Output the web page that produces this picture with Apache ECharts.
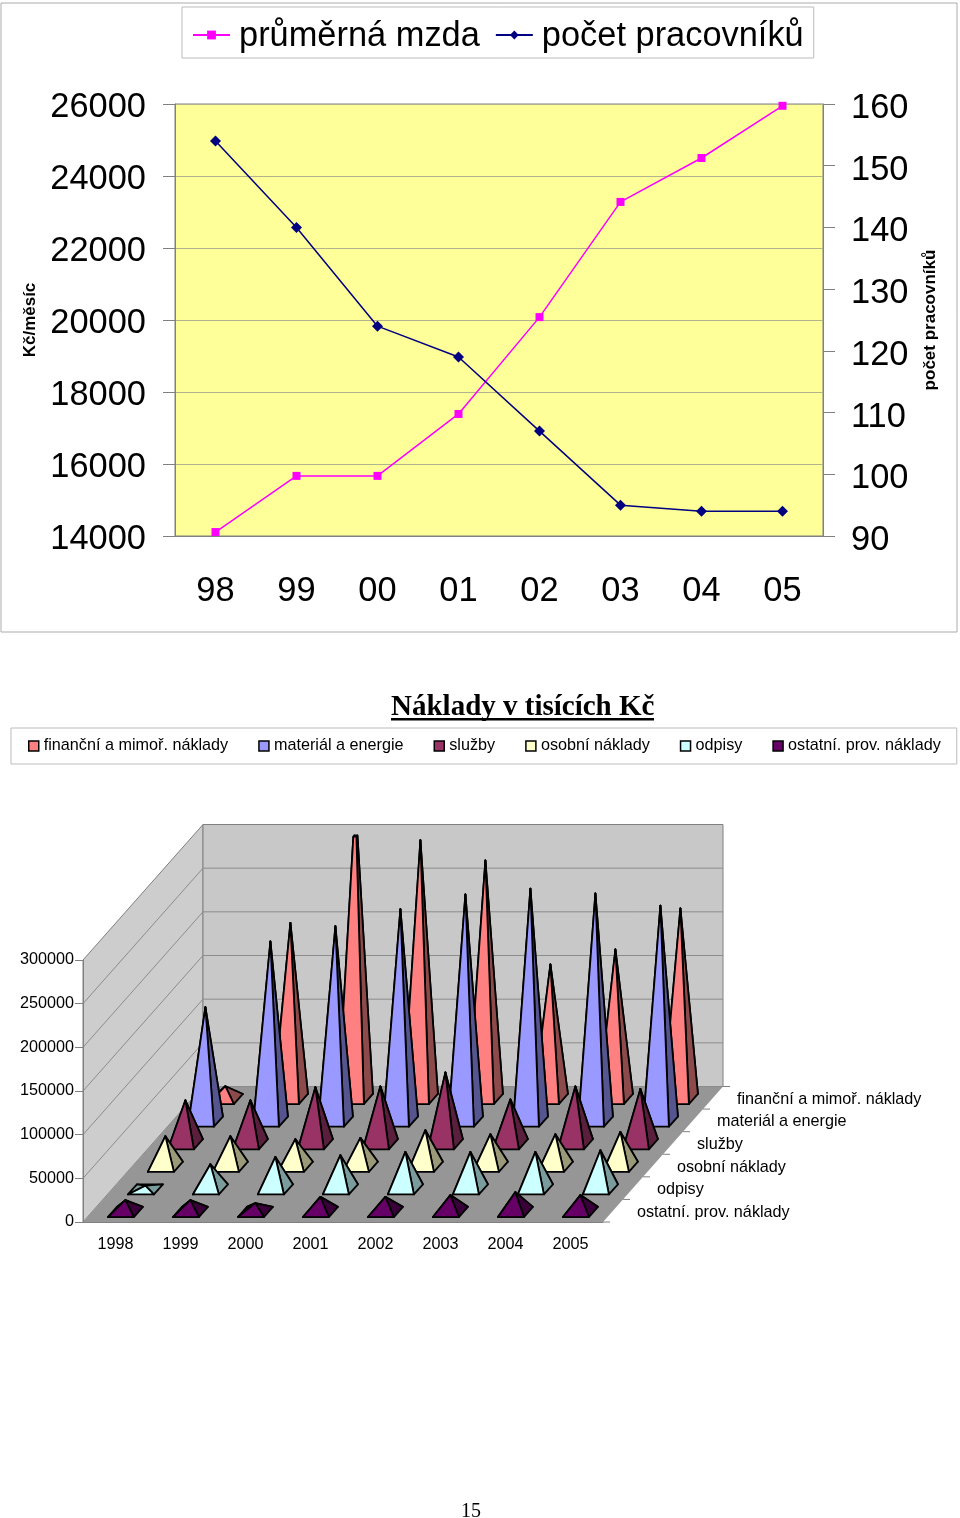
<!DOCTYPE html>
<html><head><meta charset="utf-8">
<style>html,body{margin:0;padding:0;background:#fff}#c{width:960px;height:1518px}</style>
<script src="https://cdn.jsdelivr.net/npm/echarts@6/dist/echarts.min.js"></script>
</head><body><div id="c"></div>
<script>
// ---- top chart data
const lineCategories = ['98','99','00','01','02','03','04','05'];
const averageWage = [14110,15670,15670,17390,20080,23280,24500,25950];
const workerCount = [154,140,124,119,107,95,94,94];
// ---- bottom chart data
const years = ['1998','1999','2000','2001','2002','2003','2004','2005'];
const seriesNames = ['finanční a mimoř. náklady','materiál a energie','služby','osobní náklady','odpisy','ostatní. prov. náklady'];
const financni = [13400,200400,340000,295000,272000,153000,170000,217000];
const material = [129700,205000,222500,242000,259000,265500,260000,246000];
const sluzby = [49000,49000,64000,65000,81000,50000,65000,62000];
const osobni = [33800,33800,30300,31800,40600,36000,36000,38700];
const odpisy = [3000,27500,35800,37800,41600,41600,41600,43500];
const ostatni = [12300,12300,8800,16000,16000,18000,21400,18000];
const costTicks = [0,50000,100000,150000,200000,250000,300000];

const FONT = '"Liberation Sans", Arial, sans-serif';
const DEPTH_X = 120, DEPTH_Y = -135.5;
const GRAY = '#808080';
const allCosts = [financni,material,sluzby,osobni,odpisy,ostatni];
const faceColors = ['#FF8080','#9999FF','#993366','#FFFFCC','#CCFFFF','#660066'];
const sideColors = ['#8C4A4A','#55558F','#5A1F3C','#9A9A78','#7A9C9C','#3A003A'];
const N = seriesNames.length;

function renderWalls(params, api){
  const band = api.size([1,0])[0];
  const xL = api.coord([0,0])[0]-band/2, xR = api.coord([years.length-1,0])[0]+band/2;
  const y0 = api.coord([0,0])[1], yT = api.coord([0,300000])[1];
  const kids = [];
  const poly = (pts,fill)=>kids.push({type:'polygon',shape:{points:pts},style:{fill,stroke:GRAY,lineWidth:1}});
  poly([[xL,y0],[xL,yT],[xL+DEPTH_X,yT+DEPTH_Y],[xL+DEPTH_X,y0+DEPTH_Y]],'#CDCDCD');
  poly([[xL+DEPTH_X,y0+DEPTH_Y],[xL+DEPTH_X,yT+DEPTH_Y],[xR+DEPTH_X,yT+DEPTH_Y],[xR+DEPTH_X,y0+DEPTH_Y]],'#C8C8C8');
  costTicks.forEach(v=>{
    const y = api.coord([0,v])[1];
    if(v===0||v===300000) return;
    kids.push({type:'polyline',shape:{points:[[xL,y],[xL+DEPTH_X,y+DEPTH_Y],[xR+DEPTH_X,y+DEPTH_Y]]},style:{fill:null,stroke:'#8C8C8C',lineWidth:1}});
  });
  kids.push({type:'polygon',shape:{points:[[xL,y0],[xR,y0],[xR+DEPTH_X,y0+DEPTH_Y],[xL+DEPTH_X,y0+DEPTH_Y]]},style:{fill:'#969696'}});
  const cx = DEPTH_X/N, cy = DEPTH_Y/N;
  for(let i=0;i<=N;i++){
    const px = xR+cx*i, py = y0+cy*i;
    kids.push({type:'line',shape:{x1:px,y1:py,x2:px+7,y2:py},style:{stroke:GRAY,lineWidth:1}});
  }
  for(let i=0;i<N;i++){
    kids.push({type:'text',style:{text:seriesNames[N-1-i],x:xR+cx*(i+.5)+24,y:y0+cy*(i+.5)+1.5,fill:'#000',font:'16.2px '+FONT,textAlign:'left',textVerticalAlign:'middle'}});
  }
  return {type:'group',children:kids};
}

function makePyramid(rowFromFront, face, side){
  return function(params, api){
    const c = api.value(0), v = api.value(1);
    const band = api.size([1,0])[0];
    const p0 = api.coord([c,0]);
    const top = api.coord([c,v])[1], cap = api.coord([c,300000])[1];
    const cdx = DEPTH_X/N, cdy = DEPTH_Y/N;
    const d0 = rowFromFront+.22, d1 = rowFromFront+.67;
    const w = band*.4;
    const P = (sx,d)=>[p0[0]+sx*w/2+(d+.05)*cdx, p0[1]+d*cdy];
    const FL=P(-1,d0), FR=P(1,d0), BL=P(-1,d1), BR=P(1,d1);
    const dm=(d0+d1)/2+.05, h=p0[1]-top;
    const A=[p0[0]+dm*cdx, p0[1]+dm*cdy-h];
    const t=Math.min(1,(p0[1]-cap)/h);
    const L=(p)=>[p[0]+(A[0]-p[0])*t,p[1]+(A[1]-p[1])*t];
    const faceOf=(a,b,fill)=>({type:'polygon',shape:{points:t<1?[a,b,L(b),L(a)]:[a,b,A]},
      style:{fill,stroke:'#000',lineWidth:1.8,lineJoin:'round'}});
    return {type:'group',children:[
      faceOf(BL,BR,side), faceOf(FL,BL,side), faceOf(FR,BR,side), faceOf(FL,FR,face)
    ]};
  };
}

const option = {
  animation:false,
  backgroundColor:'#fff',
  textStyle:{fontFamily:FONT},
  title:[
    {text:'Náklady v tisících Kč',left:391,top:693,padding:0,textStyle:{fontFamily:'"Liberation Serif", serif',fontWeight:'bold',fontSize:29,color:'#000'}},
    {text:'15',left:461,top:1502,padding:0,textStyle:{fontFamily:'"Liberation Serif", serif',fontWeight:'normal',fontSize:20,color:'#000'}}
  ],
  graphic:[
    {type:'rect',z:-1,shape:{x:1,y:3,width:956,height:629},style:{fill:'#fff',stroke:'#ABABAB',lineWidth:1}},
    {type:'rect',shape:{x:391,y:718,width:263,height:2.5},style:{fill:'#000'}}
  ],
  legend:[
    {left:182,top:7,orient:'horizontal',padding:[13,10,4,10],itemGap:15,itemWidth:37,itemHeight:11,
     data:['průměrná mzda','počet pracovníků'],borderColor:'#BBBBBB',borderWidth:1,
     formatter:n=>'{a|'+n+'}',
     textStyle:{fontSize:34.4,color:'#000',fontFamily:FONT,rich:{a:{fontSize:34.4,color:'#000',fontFamily:FONT,padding:[4,0,0,4]}}}},
    {left:11,top:728,orient:'horizontal',padding:[10,16,10,17],itemGap:30,itemWidth:10,itemHeight:10,icon:'rect',
     data:seriesNames,borderColor:'#BBBBBB',borderWidth:1,
     itemStyle:{borderColor:'#000',borderWidth:1.5},
     textStyle:{fontSize:16.2,color:'#000',fontFamily:FONT}}
  ],
  grid:[
    {left:175,top:104,width:648,height:432,backgroundColor:'#FFFF99',show:true,borderWidth:1,borderColor:GRAY},
    {left:83,top:960,width:520,height:262,show:false}
  ],
  xAxis:[
    {type:'category',gridIndex:0,data:lineCategories,boundaryGap:true,
     axisLine:{lineStyle:{color:GRAY}},axisTick:{length:12,lineStyle:{color:GRAY}},
     axisLabel:{fontSize:34.4,color:'#000',margin:39,fontFamily:FONT},splitLine:{show:false}},
    {type:'category',gridIndex:1,data:years,boundaryGap:true,z:5,
     axisLine:{lineStyle:{color:GRAY}},axisTick:{length:6,lineStyle:{color:GRAY}},
     axisLabel:{fontSize:16.2,color:'#000',margin:15,fontFamily:FONT},splitLine:{show:false}}
  ],
  yAxis:[
    {type:'value',gridIndex:0,position:'left',min:14000,max:26000,interval:2000,
     name:'Kč/měsíc',nameLocation:'middle',nameRotate:90,nameGap:136,
     nameTextStyle:{fontSize:17,fontWeight:'bold',color:'#000',fontFamily:FONT},
     axisLine:{show:true,lineStyle:{color:GRAY}},axisTick:{show:true,length:12,lineStyle:{color:GRAY}},
     axisLabel:{fontSize:34.4,color:'#000',margin:29,fontFamily:FONT,verticalAlign:'top',lineHeight:8,formatter:v=>String(v)},
     splitLine:{show:true,lineStyle:{color:'#B4B48C',width:1}}},
    {type:'value',gridIndex:0,position:'right',min:90,max:160,interval:10,
     name:'počet pracovníků',nameLocation:'middle',nameRotate:90,nameGap:99,
     nameTextStyle:{fontSize:17,fontWeight:'bold',color:'#000',fontFamily:FONT},
     axisLine:{show:true,lineStyle:{color:GRAY}},axisTick:{show:true,length:12,lineStyle:{color:GRAY}},
     axisLabel:{fontSize:34.4,color:'#000',margin:28,fontFamily:FONT,verticalAlign:'top',lineHeight:9},
     splitLine:{show:false}},
    {type:'value',gridIndex:1,min:0,max:300000,interval:50000,z:5,
     axisLine:{show:true,lineStyle:{color:GRAY}},axisTick:{show:true,length:8,lineStyle:{color:GRAY}},
     axisLabel:{fontSize:16.2,color:'#000',margin:9,fontFamily:FONT,formatter:v=>String(v)},
     splitLine:{show:false}}
  ],
  series:[
    {name:'průměrná mzda',type:'line',xAxisIndex:0,yAxisIndex:0,data:averageWage,symbol:'rect',symbolSize:8,
     lineStyle:{color:'#FF00FF',width:1.5},itemStyle:{color:'#FF00FF'}},
    {name:'počet pracovníků',type:'line',xAxisIndex:0,yAxisIndex:1,data:workerCount,symbol:'diamond',symbolSize:11,
     lineStyle:{color:'#000080',width:1.5},itemStyle:{color:'#000080'}},
    {name:'walls',type:'custom',xAxisIndex:1,yAxisIndex:2,silent:true,data:[[0,0]],renderItem:renderWalls,z:1},
    ...seriesNames.map((name,k)=>({
      name,type:'custom',xAxisIndex:1,yAxisIndex:2,silent:true,clip:false,z:2,
      itemStyle:{color:faceColors[k]},
      encode:{x:0,y:1},
      data:allCosts[k].map((v,c)=>[c,v]),
      renderItem:makePyramid(N-1-k,faceColors[k],sideColors[k])
    }))
  ]
};
const chart = echarts.init(document.getElementById('c'),null,{renderer:'canvas',width:960,height:1518});
chart.setOption(option);
</script></body></html>
